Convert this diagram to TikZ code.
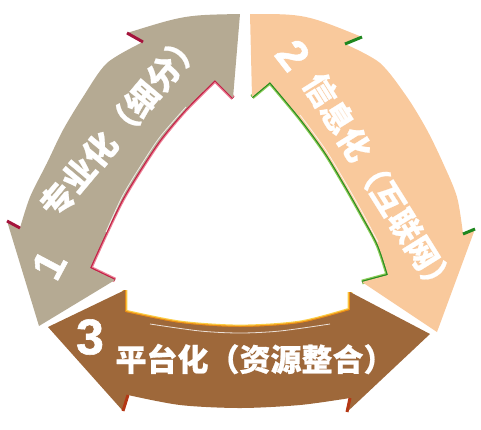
\documentclass[tikz,border=0pt]{standalone}
\usepackage{fontspec}
\newfontfamily\cjk{Noto Sans CJK SC}[BoldFeatures={FakeBold=0.6}]
\newfontfamily\numfont{Liberation Sans}[BoldFeatures={FakeBold=1.2}]
\definecolor{tanband}{RGB}{181,170,147}
\definecolor{peachband}{RGB}{249,201,156}
\definecolor{brownband}{RGB}{158,104,58}
\definecolor{redline}{RGB}{196,30,70}
\definecolor{pinkline}{RGB}{235,130,150}
\definecolor{greenline}{RGB}{40,140,30}
\definecolor{lightgreen}{RGB}{140,205,90}
\definecolor{orangeline}{RGB}{235,140,20}
\definecolor{yellowline}{RGB}{250,205,70}
\definecolor{redmark}{RGB}{165,20,60}
\definecolor{greenmark}{RGB}{30,135,30}
\definecolor{rustmark}{RGB}{180,55,20}

\tikzset{
  inner edge/.style 2 args={draw=#1, double=#2, line width=1.2pt, double distance=2.4pt, line join=miter},
  barb mark/.style={line width=3pt, draw=#1},
  shine/.style={draw=white, opacity=0.8, line width=0.8pt},
  band text/.style={inner sep=0pt, text=white, font=\cjk\bfseries\fontsize{#1}{#1}\selectfont},
  band number/.style={inner sep=0pt, text=white, font=\numfont\bfseries\fontsize{#1}{#1}\selectfont}
}

\begin{document}
\begin{tikzpicture}[x=1pt,y=-1pt]
  \useasboundingbox (0,0) rectangle (481,429);

  % band 1, left
  \coordinate (T1T) at (240,14);
  \coordinate (B1Ti) at (233,98);
  \coordinate (N1Ti) at (215,80);
  \coordinate (N1Bi) at (90,268);
  \coordinate (B1Bi) at (115,280);
  \coordinate (T1B) at (39,326);
  \coordinate (B1Bo) at (7,221);
  \coordinate (N1Bo) at (20,228);
  \coordinate (N1To) at (143,42);
  \coordinate (B1To) at (127,33);

  % band 2, right
  \coordinate (T2T) at (250,14);
  \coordinate (B2To) at (362,37);
  \coordinate (N2To) at (345,44);
  \coordinate (N2Bo) at (463,234);
  \coordinate (B2Bo) at (475,229);
  \coordinate (T2B) at (437,332);
  \coordinate (B2Bi) at (362,282);
  \coordinate (N2Bi) at (388,275);
  \coordinate (N2Ti) at (270,82);
  \coordinate (B2Ti) at (252,97);

  % band 3, bottom
  \coordinate (T3L) at (48,327);
  \coordinate (B3Li) at (125,290);
  \coordinate (N3Li) at (125,312);
  \coordinate (N3Ri) at (350,310);
  \coordinate (B3Ri) at (350,292);
  \coordinate (T3R) at (430,334);
  \coordinate (B3Ro) at (347,412);
  \coordinate (N3Ro) at (350,398);
  \coordinate (N3Lo) at (128,395);
  \coordinate (B3Lo) at (123,411);

  % band 1
  \draw[inner edge={pinkline}{redline}] (B1Ti) -- (N1Ti)
    -- plot[smooth] coordinates {(N1Ti) (185,110) (160,140) (140,170) (122,200) (105,235) (N1Bi)} -- (B1Bi);
  \fill[tanband] (T1T) -- (B1Ti) -- (N1Ti)
    -- plot[smooth] coordinates {(N1Ti) (185,110) (160,140) (140,170) (122,200) (105,235) (N1Bi)}
    -- (B1Bi) -- (T1B) -- (B1Bo) -- (N1Bo)
    -- plot[smooth] coordinates {(N1Bo) (30,197) (47,163) (63,130) (83,97) (107,63) (N1To)}
    -- (B1To) .. controls (185,15) .. (T1T) -- cycle;
  \draw[shine, transform canvas={shift={(-4,-3)}}]
    plot[smooth] coordinates {(190,110) (164,140) (144,170) (126,200) (110,235)};
  \draw[barb mark=redmark] (B1To) -- (N1To);
  \draw[barb mark=redmark] (B1Bo) -- (N1Bo);

  % band 2
  \draw[inner edge={lightgreen}{greenline}] (B2Ti) -- (N2Ti)
    -- plot[smooth] coordinates {(N2Ti) (300,118) (325,152) (345,185) (362,215) (378,245) (N2Bi)} -- (B2Bi);
  \fill[peachband] (T2T) .. controls (305,14) .. (B2To) -- (N2To)
    -- plot[smooth] coordinates {(N2To) (380,63) (407,97) (427,130) (443,163) (457,197) (N2Bo)}
    -- (B2Bo) -- (T2B) -- (B2Bi) -- (N2Bi)
    -- plot[smooth] coordinates {(N2Bi) (378,245) (362,215) (345,185) (325,152) (300,118) (N2Ti)}
    -- (B2Ti) -- cycle;
  \draw[shine, transform canvas={shift={(4,-3)}}]
    plot[smooth] coordinates {(296,118) (321,152) (341,185) (358,215) (374,245)};
  \draw[barb mark=greenmark] (B2To) -- (N2To);
  \draw[barb mark=greenmark] (B2Bo) -- (N2Bo);

  % band 3
  \draw[inner edge={yellowline}{orangeline}] (B3Li) -- (N3Li)
    -- plot[smooth] coordinates {(N3Li) (180,323) (240,327) (300,323) (N3Ri)} -- (B3Ri);
  \fill[brownband] (T3L) -- (B3Li) -- (N3Li)
    -- plot[smooth] coordinates {(N3Li) (180,323) (240,327) (300,323) (N3Ri)}
    -- (B3Ri) -- (T3R) -- (B3Ro) -- (N3Ro)
    -- plot[smooth] coordinates {(N3Ro) (300,405) (240,408) (180,405) (N3Lo)}
    -- (B3Lo) -- cycle;
  \draw[shine, transform canvas={shift={(0,6)}}]
    plot[smooth] coordinates {(150,318) (200,325) (240,327) (280,325) (330,318)};
  \draw[barb mark=rustmark] (B3Lo) -- (N3Lo);
  \draw[barb mark=rustmark] (B3Ro) -- (N3Ro);

  % labels
  \node[band text=33, rotate=50] (spec) at (121,124) {专业化（细分）};
  \node[band number=44, rotate=62] (one) at (49,265) {1};
  \node[band text=32, rotate=-58] (info) at (380,185) {信息化（互联网）};
  \node[band number=44, rotate=-52] (two) at (293,55) {2};
  \node[band text=31] (plat) at (255,359) {平台化（资源整合）};
  \node[band number=50] (three) at (90,337) {3};
\end{tikzpicture}
\end{document}
